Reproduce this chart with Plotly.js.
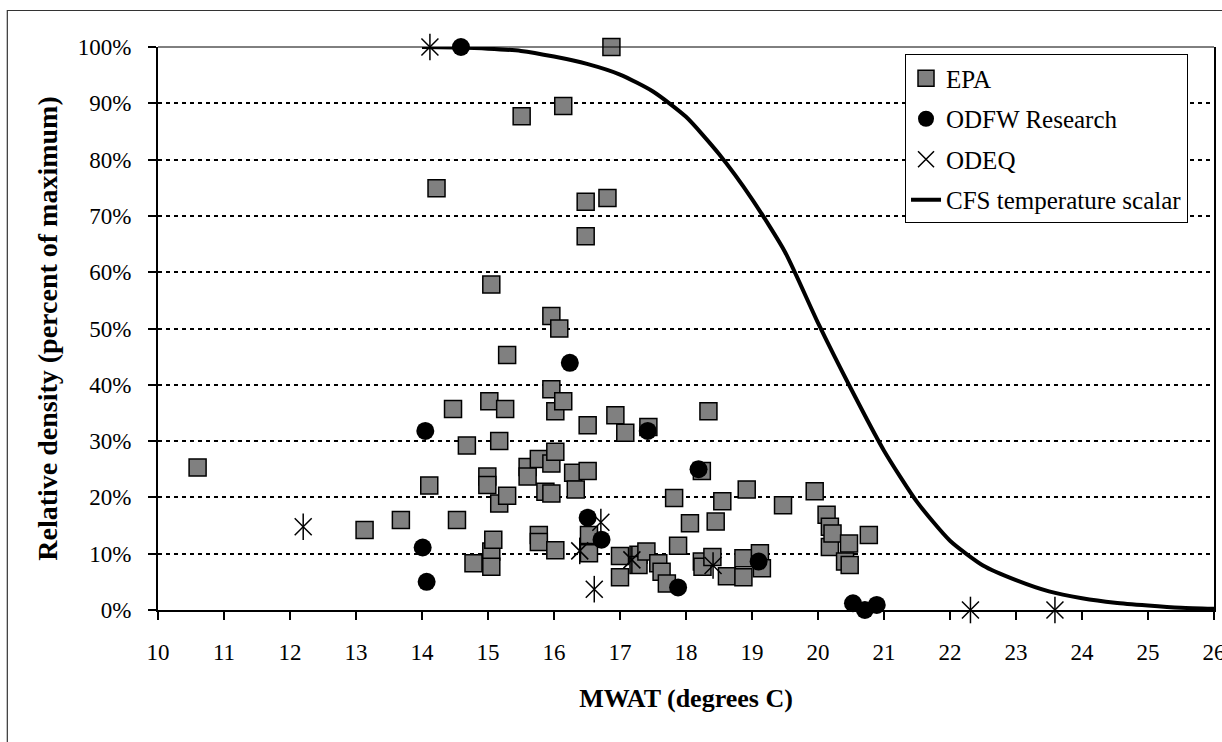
<!DOCTYPE html>
<html>
<head>
<meta charset="utf-8">
<script src="https://cdn.plot.ly/plotly-3.0.1.min.js"></script>
<style>html,body{margin:0;padding:0;background:#fff;}#chart{width:1222px;height:742px;}</style>
</head>
<body>
<div id="chart"></div>
<script>
// EPA observations: MWAT (deg C) and relative density (%)
var epaX = [10.60,13.13,13.68,14.11,14.22,14.47,14.53,14.68,14.78,14.99,14.99,15.02,15.05,15.05,15.05,15.08,15.17,15.17,15.26,15.29,15.29,15.51,15.60,15.60,15.77,15.77,15.77,15.87,15.96,15.96,15.96,15.96,16.02,16.02,16.02,16.08,16.14,16.14,16.29,16.33,16.48,16.48,16.51,16.51,16.53,16.53,16.81,16.87,16.93,17.00,17.00,17.08,17.28,17.28,17.40,17.43,17.58,17.63,17.71,17.82,17.88,18.06,18.24,18.24,18.25,18.34,18.40,18.45,18.55,18.62,18.87,18.87,18.92,19.12,19.15,19.47,19.95,20.13,20.18,20.18,20.22,20.47,20.77,20.41,20.48];
var epaY = [25.3,14.2,16.0,22.1,74.9,35.7,16.0,29.2,8.3,23.7,22.2,37.1,57.8,10.4,7.7,12.5,30.0,18.9,35.7,45.3,20.3,87.7,25.4,23.7,26.8,13.3,12.1,21.0,52.2,39.2,26.0,20.7,35.3,28.1,10.6,50.0,89.5,37.1,24.4,21.4,72.5,66.4,32.8,24.7,13.3,10.1,73.2,100,34.6,9.6,5.8,31.5,9.8,8.0,10.4,32.5,8.3,6.8,4.7,19.9,11.4,15.4,24.7,8.6,7.7,35.3,9.4,15.7,19.3,6.0,9.2,5.8,21.4,10.1,7.4,18.6,21.1,16.9,14.8,11.2,13.6,11.8,13.3,8.6,8.0];

// ODFW Research observations
var odfwX = [14.59,14.05,14.01,14.07,16.24,17.42,18.19,16.51,16.72,17.88,19.10,20.53,20.71,20.89];
var odfwY = [100,31.8,11.1,5.0,43.9,31.8,25.0,16.4,12.5,4.0,8.6,1.2,0,0.9];

// ODEQ observations
var odeqX = [14.12,12.20,16.71,16.39,16.61,17.18,18.41,22.31,23.59];
var odeqY = [100,14.8,15.6,10.5,3.7,8.9,7.9,0,0];

// CFS temperature scalar curve
var cfsX = [14,14.5,15,15.5,16,16.5,17,17.5,18,18.5,19,19.5,20,20.5,21,21.5,22,22.5,23,23.5,24,24.5,25,25.5,26];
var cfsY = [100,99.9,99.7,99.3,98.3,97.0,95.1,92.1,87.6,81.0,73.0,63.6,51.0,39.3,28.3,19.2,12.3,7.9,5.3,3.3,2.1,1.3,0.8,0.4,0.2];

// axis ticks
var xTicks = [10,11,12,13,14,15,16,17,18,19,20,21,22,23,24,25,26];
var yTicks = [0,10,20,30,40,50,60,70,80,90,100];

var FONT = '"Liberation Serif", "DejaVu Serif", serif';

var traces = [
  {x: epaX, y: epaY, type: 'scatter', mode: 'markers', name: 'EPA', legendgroup: 'a',
   cliponaxis: false,
   marker: {symbol: 'square', size: 17, color: '#808080', line: {color: '#000', width: 1.5}}},
  {x: odfwX, y: odfwY, type: 'scatter', mode: 'markers', name: 'ODFW Research', legendgroup: 'b',
   cliponaxis: false,
   marker: {symbol: 'circle', size: 18, color: '#000', line: {color: '#000', width: 0}}},
  {x: odeqX, y: odeqY, type: 'scatter', mode: 'markers', name: 'ODEQ', legendgroup: 'c',
   cliponaxis: false,
   marker: {symbol: 'x-thin-open', size: 17, color: '#000', line: {color: '#000', width: 1.5}}},
  {x: odeqX, y: odeqY, type: 'scatter', mode: 'markers', name: 'ODEQ', legendgroup: 'c', showlegend: false,
   cliponaxis: false, hoverinfo: 'skip',
   marker: {symbol: 'line-ns-open', size: 19, color: '#000', line: {color: '#000', width: 1.5}}},
  {x: cfsX, y: cfsY, type: 'scatter', mode: 'lines', name: 'CFS temperature scalar', legendgroup: 'd',
   cliponaxis: false,
   line: {color: '#000', width: 4, shape: 'spline', smoothing: 0.6}}
];

var layout = {
  width: 1222, height: 742,
  paper_bgcolor: '#fff', plot_bgcolor: '#fff',
  margin: {l: 158, r: 8, t: 46.5, b: 132},
  font: {family: FONT, color: '#000', size: 22},
  showlegend: true,
  legend: {
    x: 0.7074, y: 0.9867, xanchor: 'left', yanchor: 'top',
    bgcolor: '#fff', bordercolor: '#000', borderwidth: 1,
    font: {family: FONT, size: 25, color: '#000'},
    traceorder: 'grouped', tracegroupgap: 5
  },
  xaxis: {
    range: [10, 26], tickvals: xTicks, ticktext: xTicks.map(String),
    showgrid: false, zeroline: false,
    showline: true, linecolor: '#000', linewidth: 2, mirror: false,
    ticks: 'outside', ticklen: 8, tickwidth: 2, tickcolor: '#000',
    ticklabelstandoff: 12, ticklabeloverflow: 'allow',
    tickfont: {family: FONT, size: 23, color: '#000'},
    title: {text: 'MWAT (degrees C)', standoff: 25, font: {family: FONT, size: 26, color: '#000', weight: 'bold'}}
  },
  yaxis: {
    range: [0, 100], tickvals: yTicks, ticktext: yTicks.map(function(v){return v + '%';}),
    showgrid: true, gridcolor: '#000', gridwidth: 2, griddash: '4px,4px',
    zeroline: false,
    showline: true, linecolor: '#000', linewidth: 2, mirror: true,
    ticks: 'outside', ticklen: 8, tickwidth: 2, tickcolor: '#000',
    ticklabelstandoff: 12,
    tickfont: {family: FONT, size: 23, color: '#000'},
    title: {text: 'Relative density (percent of maximum)', standoff: 12, font: {family: FONT, size: 28, color: '#000', weight: 'bold'}}
  },
  shapes: [
    {type: 'rect', xref: 'paper', yref: 'paper', x0: -0.1427, x1: 1.05, y0: -0.35, y1: 1.0648,
     line: {color: '#333', width: 1.2}, fillcolor: 'rgba(0,0,0,0)', layer: 'below'},
    {type: 'line', xref: 'paper', yref: 'paper', x0: 0, x1: 1, y0: 1, y1: 1,
     line: {color: '#000', width: 1}, layer: 'above'}
  ]
};

Plotly.newPlot('chart', traces, layout, {displayModeBar: false, staticPlot: true});
</script>
</body>
</html>
